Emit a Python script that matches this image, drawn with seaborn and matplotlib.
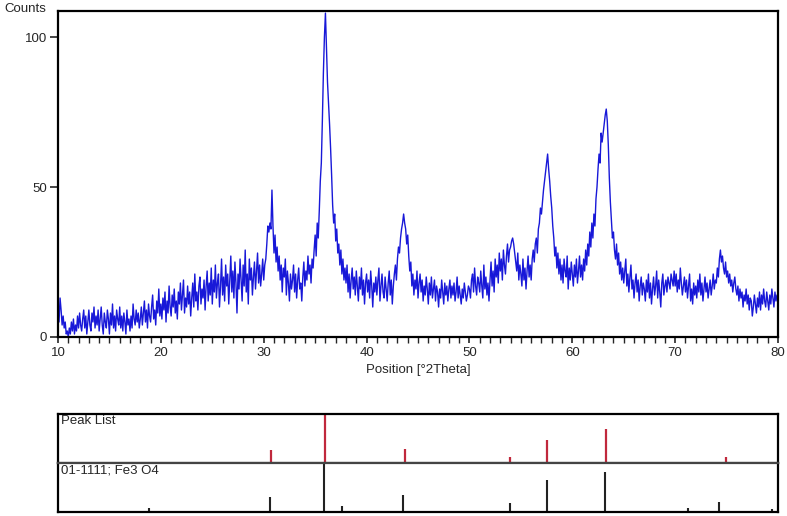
import matplotlib
matplotlib.use("Agg")
import matplotlib.pyplot as plt
import seaborn as sns
import pandas as pd
import numpy as np

# scan: 10 to 80 deg 2theta, 0.1 deg step (one row per degree)
scan_start = 10.0
scan_step = 0.1
counts = [
    12, 5, 13, 9, 4, 7, 3, 5, 1, 2,
    0, 3, 1, 5, 2, 6, 1, 4, 2, 7,
    3, 8, 4, 2, 6, 9, 3, 7, 1, 5,
    9, 4, 2, 8, 5, 10, 3, 7, 4, 9,
    2, 6, 10, 4, 1, 8, 5, 3, 9, 6,
    1, 8, 4, 11, 3, 7, 2, 9, 6, 4,
    10, 3, 7, 2, 8, 5, 1, 9, 4, 6,
    2, 7, 3, 11, 6, 4, 9, 5, 8, 3,
    6, 10, 4, 8, 12, 5, 9, 3, 11, 7,
    5, 10, 14, 6, 9, 4, 12, 8, 16, 7,
    11, 6, 13, 9, 15, 5, 12, 8, 17, 10,
    7, 14, 10, 16, 8, 12, 6, 15, 11, 18,
    9, 14, 19, 8, 13, 10, 17, 11, 15, 7,
    13, 18, 10, 21, 12, 15, 9, 17, 20, 11,
    16, 13, 19, 9, 17, 22, 12, 18, 14, 23,
    11, 19, 15, 24, 13, 18, 21, 10, 17, 26,
    14, 20, 12, 24, 17, 21, 11, 19, 27, 15,
    22, 13, 25, 18, 8, 21, 16, 26, 19, 12,
    24, 17, 29, 15, 21, 11, 26, 19, 23, 14,
    20, 25, 16, 22, 28, 18, 24, 17, 21, 26,
    19, 24, 26, 31, 37, 35, 38, 36, 49, 37,
    28, 34, 25, 30, 22, 27, 19, 24, 15, 23,
    20, 26, 14, 22, 18, 12, 21, 16, 19, 24,
    15, 21, 13, 19, 23, 16, 18, 12, 20, 25,
    17, 22, 19, 27, 21, 24, 18, 26, 23, 29,
    34, 27, 38, 33, 42, 52, 58, 72, 88, 100,
    108, 96, 85, 78, 71, 63, 54, 44, 38, 41,
    32, 36, 28, 31, 24, 29, 21, 26, 19, 23,
    18, 24, 15, 21, 13, 19, 23, 16, 20, 14,
    22, 17, 12, 20, 16, 23, 14, 19, 11, 18,
    21, 15, 19, 13, 22, 17, 10, 18, 15, 20,
    14, 19, 23, 12, 17, 21, 15, 13, 20, 16,
    12, 18, 22, 14, 19, 11, 17, 21, 24, 19,
    26, 30, 28, 33, 36, 38, 41, 38, 36, 31,
    34, 27, 22, 25, 17, 21, 14, 19, 16, 22,
    13, 18, 21, 15, 19, 12, 17, 14, 20, 16,
    11, 18, 14, 20, 13, 16, 19, 12, 17, 15,
    10, 16, 13, 19, 15, 11, 18, 14, 17, 12,
    16, 19, 13, 17, 14, 18, 12, 15, 20, 13,
    17, 14, 11, 16, 13, 18, 15, 12, 14, 17,
    16, 13, 19, 21, 15, 23, 17, 14, 20, 18,
    15, 22, 17, 13, 24, 16, 20, 14, 18, 12,
    19, 25, 17, 22, 15, 26, 20, 24, 18, 28,
    22, 26, 19, 29, 24, 21, 27, 31, 25, 29,
    30, 32, 33, 31, 28, 25, 22, 28, 19, 24,
    21, 17, 26, 19, 23, 16, 22, 27, 20, 24,
    19, 26, 29, 25, 31, 33, 28, 36, 38, 43,
    41, 45, 49, 52, 55, 58, 61, 56, 52, 47,
    43, 37, 33, 27, 30, 23, 28, 21, 26, 19,
    24, 18, 26, 22, 20, 27, 16, 23, 19, 25,
    21, 17, 24, 20, 26, 18, 22, 27, 20, 24,
    19, 26, 22, 29, 24, 31, 27, 35, 30, 38,
    33, 41, 37, 46, 50, 56, 61, 58, 68, 65,
    68, 71, 74, 76, 72, 64, 53, 45, 39, 33,
    35, 29, 26, 31, 24, 28, 21, 25, 19, 23,
    18, 22, 26, 17, 21, 15, 20, 24, 16, 19,
    13, 18, 21, 15, 19, 12, 17, 20, 14, 18,
    16, 12, 19, 15, 21, 13, 18, 11, 16, 20,
    14, 17, 22, 13, 19, 15, 10, 18, 21, 14,
    17, 19, 15, 20, 18, 16, 21, 19, 17, 22,
    17, 21, 15, 19, 16, 23, 18, 14, 17, 20,
    15, 19, 13, 17, 21, 12, 16, 11, 18, 14,
    17, 13, 19, 15, 21, 14, 18, 12, 16, 20,
    15, 18, 13, 16, 19, 14, 17, 21, 16, 19,
    18, 23, 20, 26, 29, 25, 27, 23, 21, 25,
    20, 22, 18, 21, 17, 19, 15, 18, 20, 16,
    14, 17, 12, 16, 13, 15, 10, 14, 12, 16,
    11, 14, 9, 13, 12, 7, 10, 14, 11, 8,
    13, 10, 15, 9, 14, 11, 16, 12, 10, 15,
    12, 9, 14, 11, 16, 13, 10, 15, 12, 14,
    13,
]

# peak list (relative heights, %)
peak_pos = [30.68, 35.99, 43.7, 53.94, 57.54, 63.25, 74.94]
peak_rel = [27, 100, 29, 13, 46, 69, 13]

# reference pattern 01-1111; Fe3 O4
ref_pos = [18.8, 30.6, 35.9, 37.6, 43.5, 53.9, 57.5, 63.2, 71.2, 74.3, 79.4]
ref_rel = [8, 31, 100, 12, 34, 19, 65, 82, 8, 21, 6]

two_theta = np.round(scan_start + scan_step * np.arange(len(counts)), 2)
df = pd.DataFrame({"pos": two_theta, "counts": counts})

sns.set_style("white")
plt.rcParams["font.family"] = ["Liberation Sans", "DejaVu Sans"]

fig = plt.figure(figsize=(7.87, 5.16), dpi=100)
ax = fig.add_axes([0.0737, 0.3469, 0.9149, 0.6318])
sns.lineplot(data=df, x="pos", y="counts", ax=ax, estimator=None,
             color="#1818d8", linewidth=1.0)
ax.set_xlim(10, 80)
ax.set_ylim(0, 108.7)
ax.set_xticks(range(10, 81, 10))
ax.set_xticks(np.arange(10, 81, 1), minor=True)
ax.set_yticks([0, 50, 100])
ax.tick_params(axis="x", which="major", direction="out", length=4, width=1.2,
               labelsize=9.5, pad=3, bottom=True)
ax.tick_params(axis="x", which="minor", direction="out", length=4, width=1.0,
               bottom=True)
ax.tick_params(axis="y", which="major", direction="out", length=6, width=1.2,
               labelsize=9.5, left=True, pad=2)
ax.set_xlabel("Position [°2Theta]", fontsize=9.5, labelpad=4)
ax.set_ylabel("")
for s in ax.spines.values():
    s.set_linewidth(1.6)
    s.set_color("black")
fig.text(0.006, 0.995, "Counts", fontsize=9.5, va="top", ha="left")

# stick panels
ax_pk = fig.add_axes([0.0737, 0.1027, 0.9149, 0.095])
ax_ref = fig.add_axes([0.0737, 0.0078, 0.9149, 0.095])
ax_pk.vlines(peak_pos, 0, peak_rel, color="#c0283c", linewidth=1.6)
ax_ref.vlines(ref_pos, 0, ref_rel, color="#222222", linewidth=1.5)
for a, lbl in [(ax_pk, "Peak List"), (ax_ref, "01-1111; Fe3 O4")]:
    a.set_xlim(10, 80)
    a.set_ylim(0, 100)
    a.set_xticks([])
    a.set_yticks([])
    for s in a.spines.values():
        s.set_linewidth(1.6)
        s.set_color("black")
    a.text(0.004, 0.97, lbl, transform=a.transAxes, fontsize=9.5,
           va="top", ha="left")
ax_pk.spines["bottom"].set_color("#444444")
ax_ref.spines["top"].set_color("#444444")

fig.savefig("out.png", dpi=100)
